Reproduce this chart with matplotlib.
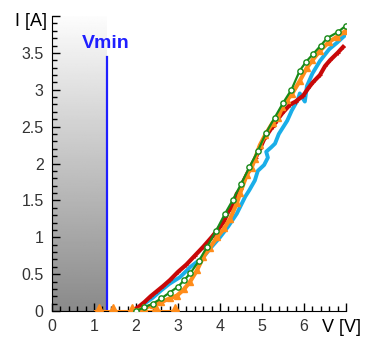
import numpy as np
import matplotlib
matplotlib.use("Agg")
import matplotlib.pyplot as plt
from matplotlib.ticker import MultipleLocator

plt.rcParams['font.family'] = ['Liberation Sans', 'DejaVu Sans']

# measured curves, V [V] and I [A]
red_v = [1.9, 2.05, 2.2, 2.35, 2.5, 2.65, 2.81, 3.0, 3.2, 3.4, 3.6, 3.8, 4.0, 4.1, 4.2, 4.3, 4.4, 4.5, 4.55,
         4.7, 4.85, 4.95, 5.05, 5.25, 5.35, 5.48, 5.67, 5.8, 5.98, 6.1, 6.21, 6.38, 6.5, 6.62, 6.8, 6.93]
red_i = [0.0, 0.05, 0.12, 0.2, 0.27, 0.34, 0.42, 0.53, 0.63, 0.75, 0.87, 1.0, 1.14, 1.22, 1.35, 1.42, 1.59, 1.66, 1.75,
         1.92, 2.08, 2.2, 2.33, 2.5, 2.58, 2.68, 2.8, 2.84, 2.92, 3.02, 3.1, 3.2, 3.32, 3.4, 3.5, 3.58]

cyan_v = [1.9, 2.05, 2.2, 2.4, 2.6, 2.8, 3.05, 3.3, 3.6, 3.8, 4.0, 4.2, 4.4, 4.6, 4.7, 4.83, 4.9,
          5.05, 5.14, 5.1, 5.22, 5.31, 5.4, 5.6, 5.71, 5.85, 5.9, 6.02, 6.07, 6.2, 6.38, 6.6, 6.79, 7.0]
cyan_i = [0.0, 0.04, 0.1, 0.18, 0.28, 0.37, 0.46, 0.6, 0.73, 0.87, 1.0, 1.15, 1.32, 1.55, 1.64, 1.77, 1.9,
          1.98, 2.08, 2.16, 2.22, 2.27, 2.4, 2.58, 2.72, 2.86, 2.95, 2.84, 3.05, 3.22, 3.39, 3.55, 3.64, 3.75]

orange_v = [2.0, 2.2, 2.4, 2.6, 2.8, 2.98, 3.15, 3.29, 3.45, 3.6, 3.75, 3.93, 4.1, 4.24, 4.4, 4.48,
            4.64, 4.75, 4.83, 4.95, 5.07, 5.25, 5.38, 5.48, 5.6, 5.71, 5.9, 6.07, 6.2, 6.38, 6.6, 6.79, 7.0]
orange_i = [0.0, 0.04, 0.08, 0.12, 0.17, 0.21, 0.3, 0.4, 0.55, 0.73, 0.85, 1.0, 1.12, 1.25, 1.46, 1.6,
            1.85, 1.94, 2.06, 2.25, 2.38, 2.55, 2.62, 2.76, 2.86, 2.94, 3.12, 3.3, 3.4, 3.53, 3.65, 3.72, 3.8]
# orange points lying on zero current
orange_base_v = [1.02, 1.12, 1.45, 1.9, 2.17, 2.48, 2.93, 3.0]
orange_base_i = [0, 0, 0, 0, 0, 0, 0, 0]

green_v = [2.0, 2.2, 2.4, 2.6, 2.8, 3.0, 3.15, 3.29, 3.5, 3.69, 3.9, 4.12, 4.3, 4.5, 4.7, 4.9,
           5.1, 5.3, 5.5, 5.7, 5.9, 6.05, 6.21, 6.4, 6.55, 6.8, 7.0]
green_i = [0.0, 0.05, 0.1, 0.17, 0.25, 0.33, 0.42, 0.51, 0.68, 0.87, 1.08, 1.32, 1.5, 1.72, 1.95, 2.17,
           2.42, 2.62, 2.82, 3.0, 3.26, 3.38, 3.48, 3.6, 3.7, 3.78, 3.87]

v_min = 1.3
x_ticks = [0, 1, 2, 3, 4, 5, 6]
y_ticks = [0, 0.5, 1, 1.5, 2, 2.5, 3, 3.5]

fig = plt.figure(figsize=(3.65, 3.39), dpi=100)
ax = fig.add_axes([52 / 365, 28 / 339, 294 / 365, 295 / 339])

# gray gradient under Vmin
grad = np.linspace(0.54, 0.99, 256).reshape(-1, 1)
ax.imshow(grad, cmap='gray', vmin=0, vmax=1, origin='lower', aspect='auto',
          extent=(0, v_min, 0, 4), zorder=0)

ax.plot([v_min, v_min], [0, 3.45], color='#1f1fff', lw=1.6, zorder=2)
ax.text(0.72, 3.56, 'Vmin', color='#1f1fff', fontsize=14, fontweight='bold',
        ha='left', va='baseline')

ax.plot(cyan_v, cyan_i, color='#1aaee8', lw=2.8, zorder=3)
ax.plot(red_v, red_i, color='#c80808', lw=3.0, marker='+', ms=3.5, mew=0.8, zorder=4)
ax.plot(orange_v, orange_i, color='#ff8c1a', lw=3.0, marker='^', ms=5, zorder=5)
ax.plot(orange_base_v, orange_base_i, color='#ff8c1a', lw=2.2, marker='^', ms=10,
        markevery=[1, 2, 3, 4, 5, 6], zorder=5)
ax.plot(green_v, green_i, color='#188a18', lw=1.6, marker='o', ms=3.8,
        mfc='white', mec='#188a18', mew=1.0, zorder=6)

ax.set_xlim(0, 7)
ax.set_ylim(0, 4)
ax.spines['top'].set_visible(False)
ax.spines['right'].set_visible(False)
ax.set_xticks(x_ticks + [7])
ax.set_xticklabels([str(t) for t in x_ticks] + [''])
ax.set_yticks(y_ticks + [4])
ax.set_yticklabels([f'{t:g}' for t in y_ticks] + [''])
ax.xaxis.set_minor_locator(MultipleLocator(0.2))
ax.yaxis.set_minor_locator(MultipleLocator(0.1))
ax.tick_params(which='major', direction='in', length=6, width=1, labelsize=11.5,
               labelcolor='#333333', pad=6)
ax.tick_params(which='minor', direction='in', length=3.5, width=1)

# axis titles at the ends of the axes
ax.text(-0.88, 3.93, 'I [A]', fontsize=13, ha='left', va='center', clip_on=False)
ax.text(6.42, -0.22, 'V [V]', fontsize=13, ha='left', va='center', clip_on=False)

fig.savefig('out.png', dpi=100)
